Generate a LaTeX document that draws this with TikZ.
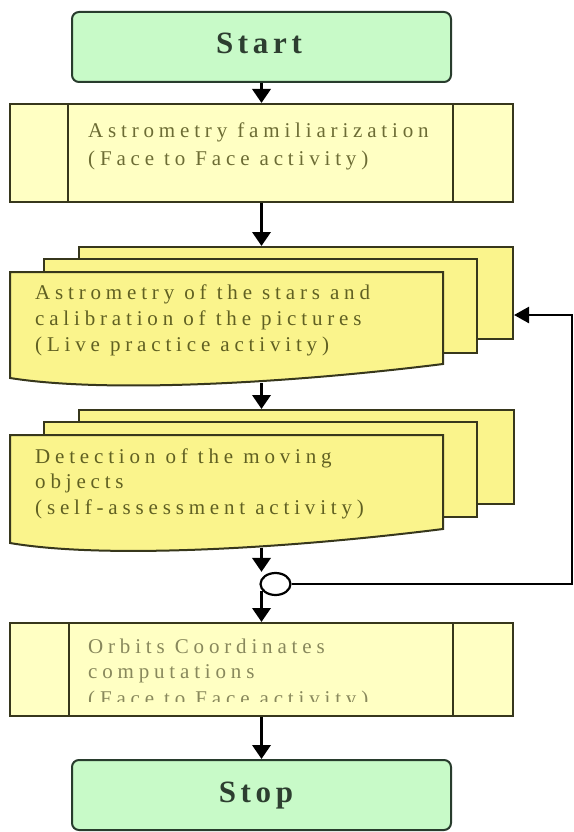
\documentclass[tikz,border=0pt]{standalone}
\usepackage{fontspec}
\setmainfont{Liberation Serif}
\newfontfamily\bodyfam[LetterSpace=23]{Liberation Serif}
\newfontfamily\termfam[LetterSpace=15]{Liberation Serif}
\usetikzlibrary{arrows.meta,shapes.geometric}
\definecolor{bordc}{RGB}{55,55,28}
\definecolor{termborder}{RGB}{40,60,45}
\definecolor{termfill}{RGB}{200,250,200}
\definecolor{procfill}{RGB}{255,255,195}
\definecolor{docfill}{RGB}{250,244,140}
\definecolor{txtc}{RGB}{108,108,52}
\definecolor{txtd}{RGB}{96,96,34}
\definecolor{txtl}{RGB}{136,136,92}
\definecolor{termtxt}{RGB}{45,62,48}
\begin{document}
\begin{tikzpicture}[x=1pt,y=-1pt,
  term/.style={draw=termborder, fill=termfill, rounded corners=7pt, line width=2pt,
    minimum width=379pt, minimum height=70pt, inner sep=0pt},
  termtext/.style={anchor=base, inner sep=0pt, text=termtxt, font=\termfam\bfseries\fontsize{31}{34}\selectfont},
  proc/.style={draw=bordc, fill=procfill, line width=2pt, minimum width=503pt, inner sep=0pt},
  page/.style={draw=bordc, fill=docfill, line width=2pt, inner sep=0pt},
  txt/.style={anchor=base west, inner sep=0pt, text=txtc, font=\bodyfam\fontsize{21}{26}\selectfont},
  conn/.style={line width=3.5pt, draw=black, -{Triangle[width=18pt,length=14pt]}},
  fb/.style={line width=2.5pt, draw=black, -{Triangle[width=16pt,length=15pt]}},
  inner/.style={line width=2pt, draw=bordc}
]
\useasboundingbox (0,0) rectangle (573,832);

% Start
\node[term] (start) at (261.5,47) {};
\node[termtext] (starttxt) at (259,54) {Start};

% Process 1
\node[proc, minimum height=98pt] (p1) at (261.5,153) {};
\draw[inner] ([xshift=59pt]p1.north west) -- ([xshift=59pt]p1.south west);
\draw[inner] ([xshift=-61pt]p1.north east) -- ([xshift=-61pt]p1.south east);
\node[txt] (p1a) at (88,137) {Astrometry familiarization};
\node[txt] (p1b) at (88,165) {(Face to Face activity)};

% Document stack 1
\node[page, minimum width=434pt, minimum height=92pt] (d1back) at (296,293) {};
\node[page, minimum width=433pt, minimum height=94pt] (d1mid) at (260.5,306) {};
\draw[page] (10,272) -- (443,272) -- (443,364) .. controls (300,382) and (110,394) .. (10,378) -- cycle;
\coordinate (d1bot) at (261.5,383);
\node[txt, text=txtd] (d1a) at (35,299) {Astrometry of the stars and};
\node[txt, text=txtd] (d1b) at (35,325) {calibration of the pictures};
\node[txt, text=txtd] (d1c) at (35,351) {(Live practice activity)};

% Document stack 2
\node[page, minimum width=435pt, minimum height=94pt] (d2back) at (296.5,457) {};
\node[page, minimum width=433pt, minimum height=95pt] (d2mid) at (260.5,469.5) {};
\draw[page] (10,435) -- (443,435) -- (443,529) .. controls (300,547) and (110,560) .. (10,543) -- cycle;
\coordinate (d2bot) at (261.5,548);
\node[txt, text=txtd] (d2a) at (35,463) {Detection of the moving};
\node[txt, text=txtd] (d2b) at (35,488) {objects};
\node[txt, text=txtd] (d2c) at (35,514) {(self-assessment activity)};

% Connector circle
\node[ellipse, draw=black, line width=2.2pt, fill=white, minimum width=30pt, minimum height=22pt, inner sep=0pt] (c) at (275.5,584) {};

% Process 2
\node[proc, minimum height=93pt] (p2) at (261.5,669.5) {};
\draw[inner] ([xshift=60pt]p2.north west) -- ([xshift=60pt]p2.south west);
\draw[inner] ([xshift=-61pt]p2.north east) -- ([xshift=-61pt]p2.south east);
\node[txt, text=txtl] (p2a) at (88,653) {Orbits Coordinates};
\node[txt, text=txtl] (p2b) at (88,678) {computations};
\begin{scope}
\clip (70,688) rectangle (452,701);
\node[txt, text=txtl] (p2c) at (88,705) {(Face to Face activity)};
\end{scope}

% Stop
\node[term] (stop) at (261.5,795) {};
\node[termtext] (stoptxt) at (256,802) {Stop};

% Connectors
\draw[conn] (start.south) -- (p1.north);
\draw[conn] (p1.south) -- (p1.south |- d1back.north);
\draw[conn] (d1bot) -- (d1bot |- d2back.north);
\draw[conn] (d2bot) -- (d2bot |- c.north);
\draw[conn] (d2bot |- c.206) -- (d2bot |- p2.north);
\draw[conn] (p2.south) -- (stop.north);
\coordinate (fbc) at (572,315);
\draw[fb] (c.east) -| (fbc) -- (fbc -| d1back.east);
\end{tikzpicture}
\end{document}
